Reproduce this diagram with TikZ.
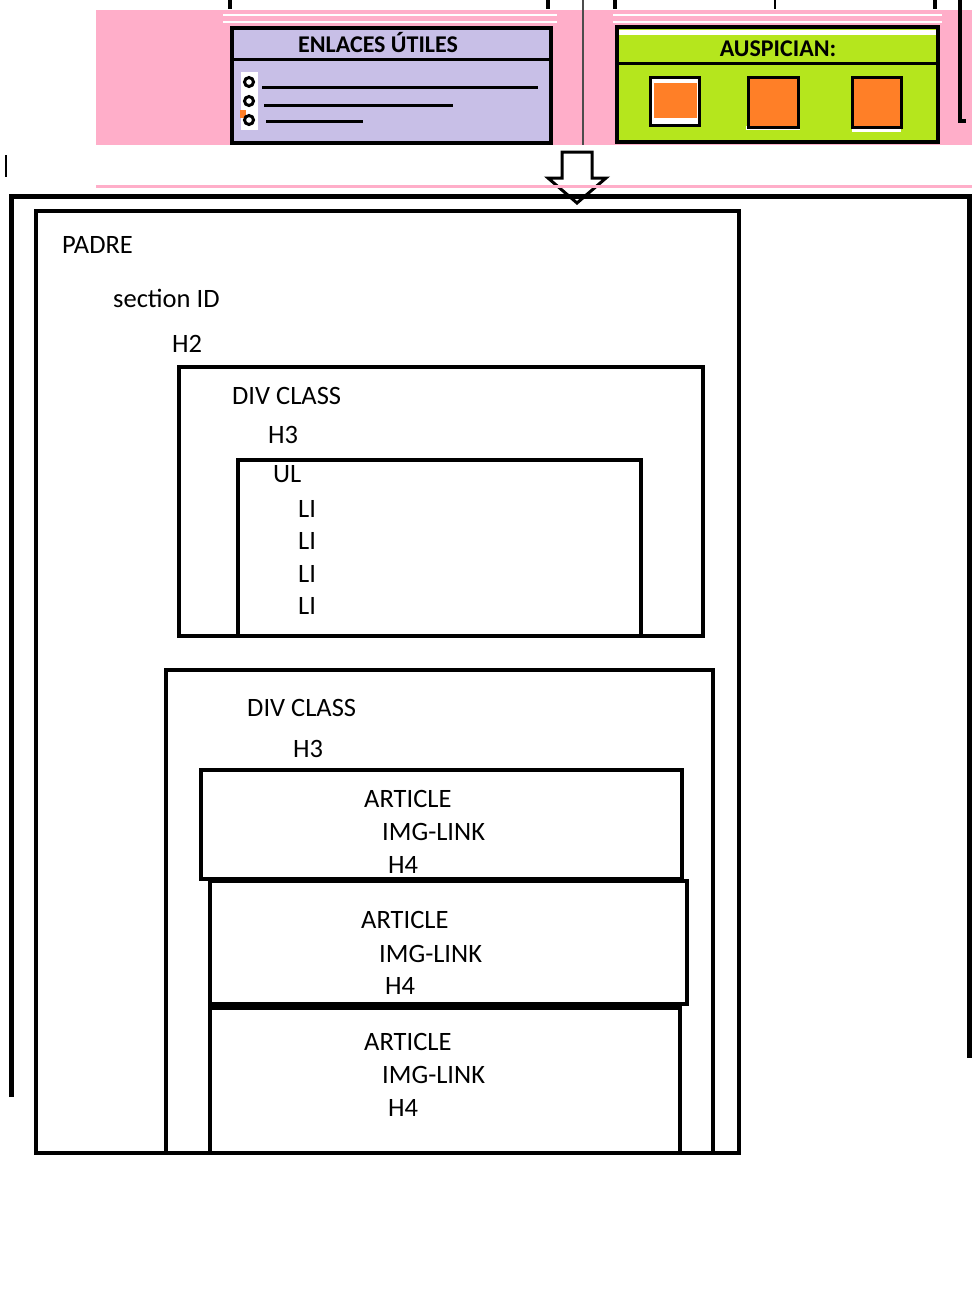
\documentclass[tikz,border=0pt]{standalone}
\usepackage{fontspec}
\setmainfont{Carlito}
\definecolor{pinkbg}{HTML}{FFAEC9}
\definecolor{lav}{HTML}{C8BFE7}
\definecolor{lime}{HTML}{B5E61D}
\definecolor{orng}{HTML}{FF7F27}
\begin{document}
\begin{tikzpicture}[x=1pt,y=-1pt,
  box/.style={draw=black,line width=4.5pt},
  lbl/.style={anchor=base west,inner sep=0pt,font=\fontsize{26.5}{30}\selectfont},
  hdr/.style={anchor=base,inner sep=0pt,font=\bfseries\fontsize{24}{28}\selectfont},
  thin/.style={line width=1.5pt}]
\useasboundingbox (0,0) rectangle (974,1302);
% ---------- top banner ----------
\fill[pinkbg] (96,10) rectangle (972,145);
\draw[white,line width=2pt] (223,15) -- (557,15) (223,22) -- (557,22);
\draw[white,line width=2pt] (613,15) -- (942,15) (613,22) -- (942,22);
% stubs above banner
\draw[line width=4pt] (230,0) -- (230,9) (548,0) -- (548,9) (615,0) -- (615,9) (935,0) -- (935,9);
\draw[line width=1.5pt] (775,0) -- (775,9);
\draw[line width=1.5pt,black!70] (583,0) -- (583,145);
\draw[line width=4pt] (960,0) -- (960,121) -- (966,121);
% enlaces box
\fill[lav] (232,28) rectangle (551,143);
\draw[box] (232,28) rectangle (551,143);
\draw[line width=3pt] (232,59) -- (551,59);
\node[hdr] (enl) at (378,52) {ENLACES ÚTILES};
\fill[white] (241,72) rectangle (258,130);
\fill[orng] (240,110) rectangle (246,118);
\foreach \yy in {82,101,120}{
  \draw[line width=3pt] (249,\yy) circle (4.5pt);
}
\draw[line width=3pt] (262,87) -- (538,87);
\draw[line width=3pt] (264,105) -- (453,105);
\draw[line width=3pt] (266,121) -- (363,121);
% auspician box
\fill[lime] (617,27) rectangle (938,142);
\fill[white] (619,30) rectangle (936,35);
\draw[box] (617,27) rectangle (938,142);
\draw[line width=3pt] (617,63) -- (938,63);
\node[hdr] (aus) at (778,56) {AUSPICIAN:};
\fill[white] (650,77) rectangle (699,125);
\fill[orng] (654,83) rectangle (697,118);
\draw[line width=3pt] (650,77) rectangle (699,125);
\fill[white] (746,126) rectangle (800,130);
\fill[orng] (748,77) rectangle (798,127);
\draw[line width=3pt] (748,77) rectangle (798,127);
\fill[white] (852,126) rectangle (901,132);
\fill[orng] (852,77) rectangle (901,127);
\draw[line width=3pt] (852,77) rectangle (901,127);
% ---------- arrow and separators ----------
\draw[line width=3pt,line join=miter,fill=white] (562,152) -- (592,152) -- (592,178) -- (606,178) -- (577,203) -- (548,178) -- (562,178) -- cycle;
\draw[pinkbg,line width=3pt] (96,186) -- (972,186);
\draw[line width=2pt] (6,155) -- (6,177);
\draw[line width=5pt] (11,1097) -- (11,196) -- (969,196) -- (969,1058);
% ---------- PADRE ----------
\draw[box] (36,211) rectangle (739,1153);
\node[lbl] (padre) at (62,253) {PADRE};
\node[lbl] (sec) at (113,307) {section ID};
\node[lbl] (h2) at (172,352) {H2};
% div class 1
\draw[box] (179,367) rectangle (703,636);
\node[lbl] (div1) at (232,404) {DIV CLASS};
\node[lbl] (h3a) at (268,443) {H3};
\draw[box] (238,460) rectangle (641,636);
\node[lbl] (ul) at (273,482) {UL};
\node[lbl] (li1) at (298,517) {LI};
\node[lbl] (li2) at (298,549) {LI};
\node[lbl] (li3) at (298,582) {LI};
\node[lbl] (li4) at (298,614) {LI};
% div class 2
\draw[box] (166,670) rectangle (713,1153);
\node[lbl] (div2) at (247,716) {DIV CLASS};
\node[lbl] (h3b) at (293,757) {H3};
\draw[box] (201,770) rectangle (682,879);
\node[lbl] (art1) at (364,807) {ARTICLE};
\node[lbl] (img1) at (382,840) {IMG-LINK};
\node[lbl] (h4a) at (388,873) {H4};
\draw[box] (210,881) rectangle (687,1004);
\node[lbl] (art2) at (361,928) {ARTICLE};
\node[lbl] (img2) at (379,962) {IMG-LINK};
\node[lbl] (h4b) at (385,994) {H4};
\draw[box] (210,1008) rectangle (680,1153);
\node[lbl] (art3) at (364,1050) {ARTICLE};
\node[lbl] (img3) at (382,1083) {IMG-LINK};
\node[lbl] (h4c) at (388,1116) {H4};
\end{tikzpicture}
\end{document}
